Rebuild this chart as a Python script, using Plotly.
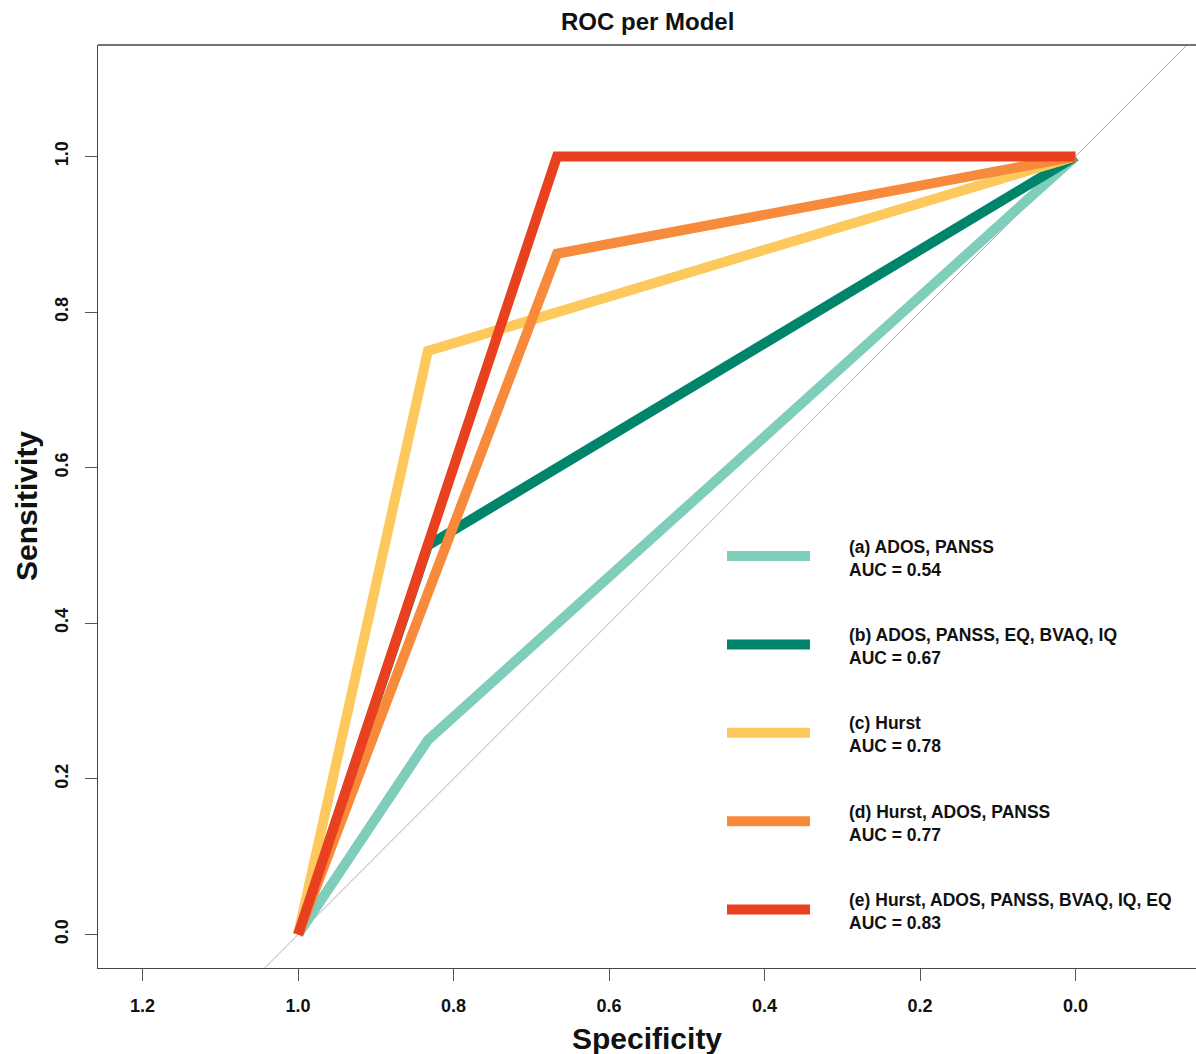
import plotly.graph_objects as go

# ---- data ----
models = ["(a) ADOS, PANSS", "(b) ADOS, PANSS, EQ, BVAQ, IQ", "(c) Hurst",
          "(d) Hurst, ADOS, PANSS", "(e) Hurst, ADOS, PANSS, BVAQ, IQ, EQ"]
auc = [0.54, 0.67, 0.78, 0.77, 0.83]
specificity = [
    [1.0, 0.833, 0.0],
    [1.0, 0.833, 0.0],
    [1.0, 0.833, 0.0],
    [1.0, 0.667, 0.0],
    [1.0, 0.667, 0.0],
]
sensitivity = [
    [0.0, 0.25, 1.0],
    [0.0, 0.50, 1.0],
    [0.0, 0.75, 1.0],
    [0.0, 0.875, 1.0],
    [0.0, 1.0, 1.0],
]
colors = ["#7fcdbb", "#00846a", "#fdc85c", "#f78a3b", "#e9401f"]
x_ticks = [1.2, 1.0, 0.8, 0.6, 0.4, 0.2, 0.0]
y_ticks = [0.0, 0.2, 0.4, 0.6, 0.8, 1.0]

W, H = 1196, 1054
L, R, T, B = 98, 0, 45, 86
pw, ph = W - L - R, H - T - B
XR = [1.2574, -0.155]
YR = [-0.0431, 1.1433]

def px(xp):
    return (xp - L) / pw

def py(yp):
    return (H - B - yp) / ph

fig = go.Figure()

# diagonal reference line (identity for ROC)
fig.add_trace(go.Scatter(x=[XR[0] + 0.5, XR[1] - 0.5], y=[1 - (XR[0] + 0.5), 1 - (XR[1] - 0.5)],
                         mode="lines", line=dict(color="#b0b0b0", width=1),
                         showlegend=False, hoverinfo="skip"))

for i in range(len(models)):
    fig.add_trace(go.Scatter(x=specificity[i], y=sensitivity[i], mode="lines",
                             line=dict(color=colors[i], width=10),
                             name=models[i], showlegend=False))

shapes = []
# frame: top border (left/bottom from axis lines)
shapes.append(dict(type="line", xref="paper", yref="paper", x0=0, x1=1.01, y0=1, y1=1,
                   line=dict(color="#444444", width=1.3)))

annotations = []
# legend
leg_y0 = 556
leg_step = 88.4
for i in range(len(models)):
    yy = leg_y0 + i * leg_step
    shapes.append(dict(type="line", xref="paper", yref="paper",
                       x0=px(727), x1=px(810), y0=py(yy), y1=py(yy),
                       line=dict(color=colors[i], width=10)))
    annotations.append(dict(xref="paper", yref="paper", x=px(847), y=py(yy + 2),
                            xanchor="left", yanchor="middle", align="left", showarrow=False,
                            text=f"<b>{models[i]}<br>AUC = {auc[i]:.2f}</b>",
                            font=dict(family="Liberation Sans, Arial", size=17.5, color="#111111")))

# titles
annotations.append(dict(xref="paper", yref="paper", x=0.5, y=py(22), xanchor="center", yanchor="middle",
                        showarrow=False, text="<b>ROC per Model</b>",
                        font=dict(family="Liberation Sans, Arial", size=24, color="#111111")))
annotations.append(dict(xref="paper", yref="paper", x=0.5, y=py(1038), xanchor="center", yanchor="middle",
                        showarrow=False, text="<b>Specificity</b>",
                        font=dict(family="Liberation Sans, Arial", size=30, color="#111111")))
annotations.append(dict(xref="paper", yref="paper", x=px(26), y=py(506), xanchor="center", yanchor="middle",
                        showarrow=False, text="<b>Sensitivity</b>", textangle=-90,
                        font=dict(family="Liberation Sans, Arial", size=30, color="#111111")))

tickfont = dict(family="Liberation Sans, Arial", size=18, color="#111111")

fig.update_layout(
    width=W, height=H,
    margin=dict(l=L, r=R, t=T, b=B),
    paper_bgcolor="white", plot_bgcolor="white",
    shapes=shapes, annotations=annotations,
    xaxis=dict(range=XR, tickvals=x_ticks, ticktext=[f"<b>{v:.1f}</b>" for v in x_ticks],
               showgrid=False, zeroline=False, showline=True, linecolor="#444444", linewidth=1.3,
               ticks="outside", ticklen=12, tickcolor="#555555", tickwidth=1,
               tickfont=tickfont, ticklabelstandoff=9),
    yaxis=dict(range=YR, tickvals=y_ticks, ticktext=[f"<b>{v:.1f}</b>" for v in y_ticks],
               showgrid=False, zeroline=False, showline=True, linecolor="#444444", linewidth=1.3,
               ticks="outside", ticklen=12, tickcolor="#555555", tickwidth=1,
               tickfont=tickfont, tickangle=-90, ticklabelstandoff=10),
)

fig.write_html("out.html", config={"displayModeBar": False},
               post_script="document.body.style.margin='0';document.body.style.overflow='hidden';")
